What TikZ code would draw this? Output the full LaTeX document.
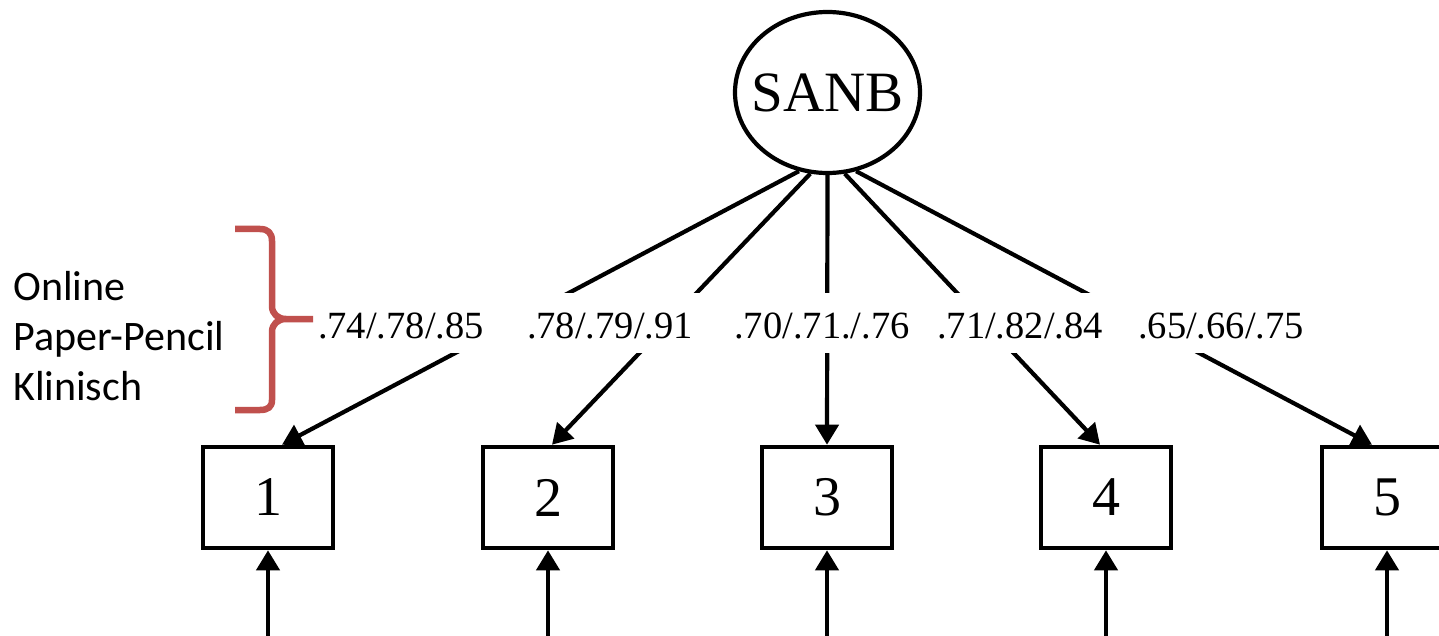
\documentclass[tikz,border=0pt]{standalone}
\usepackage{fontspec}
\setmainfont{Liberation Serif}
\newfontfamily\calib{Carlito}
\usetikzlibrary{arrows.meta,shapes.geometric,calc}
\definecolor{bracered}{RGB}{192,80,77}
\tikzset{
  latent/.style={draw, ellipse, line width=4.2pt, minimum width=185pt, minimum height=161pt,
    inner sep=0pt, font=\fontsize{57}{60}\selectfont},
  item/.style={draw, line width=4.6pt, minimum width=130pt, minimum height=101pt,
    inner sep=0pt, font=\fontsize{56}{60}\selectfont},
  load/.style={line width=4.2pt, -{Triangle[width=23pt,length=20pt]}},
  coef/.style={fill=white, anchor=base, inner xsep=22pt, inner ysep=0pt,
    text height=45pt, text depth=15pt, font=\fontsize{38.5}{40}\selectfont},
  group/.style={anchor=base west, inner sep=0pt, font=\calib\fontsize{42}{50}\selectfont},
  brace/.style={draw=bracered, line width=6.5pt, line join=round}
}
\begin{document}
\begin{tikzpicture}[x=1pt, y=-1pt]
\clip (0,0) rectangle (1439,636);
\fill[white] (0,0) rectangle (1439,636);

% latent factor
\node[latent] (sanb) at (827.5,92.5) {\makebox[0pt]{SANB}};

% indicators
\node[item] (b1) at (268,497.5) {1};
\node[item] (b2) at (548,497.5) {2};
\node[item] (b3) at (827,497.5) {3};
\node[item] (b4) at (1106,497.5) {4};
\node[item] (b5) at (1387,497.5) {5};

% residual arrows entering from below
\coordinate (e1) at (268,645);
\coordinate (e2) at (548,645);
\coordinate (e3) at (827,645);
\coordinate (e4) at (1106,645);
\coordinate (e5) at (1387,645);
\foreach \i in {1,...,5} \draw[load] (e\i) -- (b\i.south);

% factor loadings
\draw[load] (sanb.250) -- ([xshift=14pt]b1.north);
\draw[load] (sanb.258) -- ([xshift=4pt]b2.north);
\draw[load] (sanb.270) -- (b3.north);
\draw[load] (sanb.282) -- ([xshift=-6pt]b4.north);
\draw[load] (sanb.290) -- ([xshift=-15pt]b5.north);

% loading values (online / paper-pencil / clinical)
\node[coef] (c1) at (401,338) {.74/.78/.85};
\node[coef] (c2) at (610,338) {.78/.79/.91};
\node[coef] (c3) at (822,338) {.70/.71./.76};
\node[coef] (c4) at (1020,338) {.71/.82/.84};
\node[coef] (c5) at (1221,338) {.65/.66/.75};

% sample legend
\node[group] (g1) at (13,300) {Online};
\node[group] (g2) at (13,350) {Paper-Pencil};
\node[group] (g3) at (13,400) {Klinisch};

\draw[brace] (235,229) -- (260,229) .. controls (268,229) and (272,233) .. (272,241)
  -- (272,306) .. controls (272,314) and (278,319) .. (286,319) -- (313,319)
  (286,319) .. controls (278,319) and (272,324) .. (272,332)
  -- (272,400) .. controls (272,407) and (268,410) .. (260,410) -- (235,410);
\end{tikzpicture}
\end{document}
